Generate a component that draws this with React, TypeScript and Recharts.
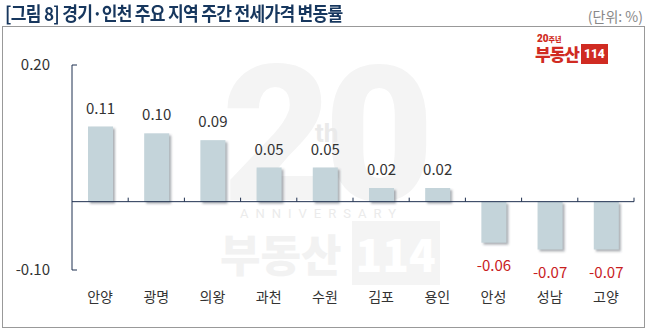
import { BarChart, Bar, XAxis, YAxis, ReferenceLine, LabelList } from 'recharts'

const regions = ['안양', '광명', '의왕', '과천', '수원', '김포', '용인', '안성', '성남', '고양']
const changes = [0.11, 0.1, 0.09, 0.05, 0.05, 0.02, 0.02, -0.06, -0.07, -0.07]
const yTicks = [-0.1, 0.2]

const data = regions.map((r, i) => ({ region: r, change: changes[i] }))

const KR = '"Noto Sans CJK KR", "Noto Sans", sans-serif'
const NAVY = '#1F3050'
const BAR = '#C4D4DA'
const RED = '#C8201E'

function BarShape(p: any) {
  const top = Math.min(p.y, p.y + p.height)
  const h = Math.abs(p.height)
  return (
    <g>
      <defs>
        <filter id="barShadow" x="-30%" y="-30%" width="160%" height="160%">
          <feGaussianBlur stdDeviation="1.2" />
        </filter>
      </defs>
      <rect x={p.x + 2} y={top + 2} width={p.width} height={h} fill="rgba(70,80,90,0.45)" filter="url(#barShadow)" />
      <rect x={p.x} y={top} width={p.width} height={h} fill={BAR} />
    </g>
  )
}

function ValueLabel(p: any) {
  const v = p.value as number
  const top = Math.min(p.y, p.y + p.height)
  const bottom = Math.max(p.y, p.y + p.height)
  const cx = p.x + p.width / 2
  return (
    <text
      x={cx}
      y={v >= 0 ? top - 13 : bottom + 28}
      textAnchor="middle"
      fontFamily={KR}
      fontSize={15}
      fill={v >= 0 ? '#333' : RED}
    >
      {v.toFixed(2)}
    </text>
  )
}

function YTick({ x, y, payload }: any) {
  return (
    <g>
      <text x={x} y={y} dy="0.35em" textAnchor="end" fontFamily={KR} fontSize={15} fill="#333">
        {payload.value.toFixed(2)}
      </text>
      <line x1={x + 22} x2={x + 27} y1={y} y2={y} stroke={NAVY} />
    </g>
  )
}

function XTick({ x, y, payload }: any) {
  return (
    <text x={x} y={y} dy="0.71em" textAnchor="middle" fontFamily={KR} fontSize={14} fill="#333">
      {payload.value}
    </text>
  )
}

function ZeroLine(p: any) {
  const n = regions.length
  const step = (p.x2 - p.x1) / n
  const marks = []
  for (let i = 1; i <= n; i++) {
    const xx = p.x1 + step * i
    marks.push(<line key={i} x1={xx} x2={xx} y1={p.y1} y2={p.y1 - 4} stroke={NAVY} />)
  }
  return (
    <g>
      <line x1={p.x1} x2={p.x2} y1={p.y1} y2={p.y2} stroke={NAVY} />
      {marks}
    </g>
  )
}

export default function App() {
  return (
    <div style={{ position: 'absolute', left: 0, top: 0, width: 648, height: 332, background: '#fff', overflow: 'hidden', fontFamily: KR }}>
      <div style={{ position: 'absolute', left: 5, top: 1, fontSize: 19, fontWeight: 700, color: '#17375E', letterSpacing: -0.8, lineHeight: '24px', transform: 'scaleX(0.9)', transformOrigin: 'left top', whiteSpace: 'nowrap' }}>
        [그림 8] 경기·인천 주요 지역 주간 전세가격 변동률
      </div>
      <div style={{ position: 'absolute', right: 5, top: 7, fontSize: 14, color: '#888', lineHeight: '18px' }}>(단위: %)</div>
      <div style={{ position: 'absolute', left: 2, top: 26, width: 641, height: 300, border: '1px solid #999' }} />

      {/* watermark */}
      <div style={{ position: 'absolute', left: 222, top: 40, fontSize: 190, fontWeight: 900, color: '#F4F4F4', lineHeight: '190px', fontFamily: 'Roboto, sans-serif', letterSpacing: -8 }}>20</div>
      <div style={{ position: 'absolute', left: 315, top: 118, fontSize: 26, fontWeight: 700, color: '#EAEAEA', fontFamily: 'Roboto, sans-serif' }}>th</div>
      <div style={{ position: 'absolute', left: 240, top: 206, fontSize: 13, color: '#EBEBEB', letterSpacing: 7, fontFamily: 'Roboto, sans-serif' }}>ANNIVERSARY</div>
      <div style={{ position: 'absolute', left: 220, top: 228, fontSize: 44, fontWeight: 900, color: '#F2F2F2', lineHeight: '50px' }}>
        부동산 <span style={{ background: '#F4F4F4', color: '#fff', padding: '0 4px' }}>114</span>
      </div>

      {/* logo */}
      <div style={{ position: 'absolute', left: 537, top: 33, fontSize: 10, fontWeight: 900, color: '#D02B22', lineHeight: '12px', fontFamily: 'Roboto, sans-serif' }}>
        20<span style={{ fontSize: 7, fontFamily: KR }}>주년</span>
      </div>
      <div style={{ position: 'absolute', left: 535, top: 44, display: 'flex', alignItems: 'center', lineHeight: '18px' }}>
        <span style={{ fontSize: 17, fontWeight: 900, color: '#D02B22', letterSpacing: -1 }}>부동산</span>
        <span style={{ marginLeft: 2, background: '#D02B22', color: '#fff', fontSize: 12, fontWeight: 900, padding: '1px 3px', fontFamily: 'Roboto, sans-serif' }}>114</span>
      </div>

      <div style={{ position: 'absolute', left: 0, top: 0 }}>
        <BarChart width={648} height={332} data={data} margin={{ top: 65, right: 14, bottom: 32, left: 0 }}>
          <XAxis
            dataKey="region"
            height={30}
            axisLine={false}
            tickLine={false}
            tickSize={0}
            tickMargin={22}
            interval={0}
            tick={<XTick />}
          />
          <YAxis
            width={72}
            domain={[-0.1, 0.2]}
            ticks={yTicks}
            axisLine={{ stroke: NAVY }}
            tickLine={false}
            tickSize={0}
            tickMargin={22}
            tick={<YTick />}
          />
          <ReferenceLine y={0} shape={<ZeroLine />} />
          <Bar dataKey="change" barSize={25} isAnimationActive={false} shape={<BarShape />}>
            <LabelList dataKey="change" content={<ValueLabel />} />
          </Bar>
        </BarChart>
      </div>
    </div>
  )
}
